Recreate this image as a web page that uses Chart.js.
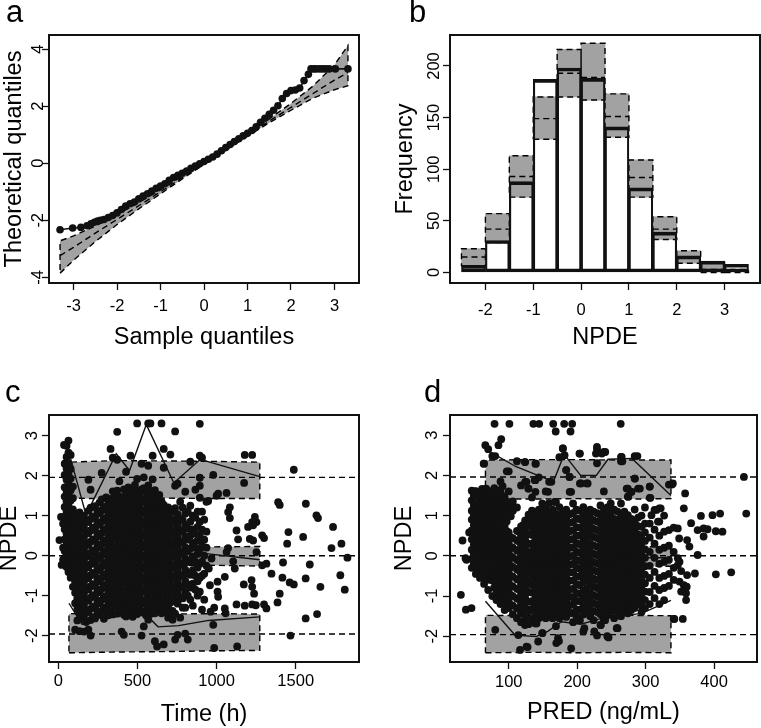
<!DOCTYPE html>
<html>
<head>
<meta charset="utf-8">
<script src="https://cdn.jsdelivr.net/npm/chart.js@4.4.1/dist/chart.umd.min.js"></script>
<style>
  body { margin: 0; background: #fff; width: 761px; height: 728px; position: relative; overflow: hidden; }
  canvas { position: absolute; }
</style>
</head>
<body>
<canvas id="pa" width="380" height="364" style="left:0;top:0"></canvas>
<canvas id="pb" width="381" height="364" style="left:380px;top:0"></canvas>
<canvas id="pc" width="380" height="364" style="left:0;top:364px"></canvas>
<canvas id="pd" width="381" height="364" style="left:380px;top:364px"></canvas>
<script>
// ---- a: QQ plot ----
const qqSample = [-3.31,-3.02,-2.83,-2.69,-2.6,-2.52,-2.45,-2.38,-2.3,
  -2.2,-2.1,-2.0,-1.9,-1.8,-1.7,-1.6,-1.5,-1.4,-1.3,-1.2,-1.1,-1.0,-0.9,-0.8,-0.7,-0.6,-0.5,-0.4,-0.3,-0.2,-0.1,
  0,0.1,0.2,0.3,0.4,0.5,0.6,0.7,0.8,0.9,1.0,1.1,1.2,1.3,1.4,1.5,1.6,1.7,1.8,1.9,2.0,2.1,2.2,2.3,2.4,
  2.46,2.52,2.58,2.66,2.73,2.8,2.88,3.02,3.31];
const qqTheo = [-2.33,-2.27,-2.25,-2.19,-2.12,-2.07,-2.03,-2.0,-1.97,
  -1.9,-1.83,-1.74,-1.62,-1.5,-1.42,-1.36,-1.25,-1.15,-1.07,-0.97,-0.88,-0.8,-0.72,-0.6,-0.5,-0.42,-0.35,-0.27,-0.18,-0.1,-0.02,
  0.06,0.14,0.22,0.32,0.44,0.55,0.66,0.76,0.86,0.96,1.05,1.15,1.28,1.44,1.58,1.72,1.86,2.02,2.27,2.45,2.55,2.57,2.64,2.9,3.12,
  3.31,3.31,3.31,3.31,3.31,3.31,3.31,3.31,3.31];
const qqBandX   = [-3.31,-3.0,-2.5,-2.0,-1.5,-1.0,-0.5,0,0.5,1.0,1.5,2.0,2.5,3.0,3.31];
const qqBandLo  = [-3.86,-3.4,-2.75,-2.15,-1.6,-1.07,-0.55,-0.04,0.46,0.95,1.42,1.86,2.28,2.58,2.72];
const qqBandMid = [-3.24,-2.95,-2.45,-1.97,-1.49,-1.0,-0.5,0,0.49,0.99,1.48,1.96,2.44,2.92,3.18];
const qqBandHi  = [-2.72,-2.55,-2.2,-1.8,-1.38,-0.93,-0.45,0.04,0.54,1.04,1.56,2.1,2.7,3.45,4.13];

// ---- b: histogram of NPDE ----
const binMid   = [-2.25,-1.75,-1.25,-0.75,-0.25,0.25,0.75,1.25,1.75,2.25,2.75,3.25];
const binWidth = 0.5;
const obsCount = [7,31,88,187,198,188,141,82,39,16,11,8];
const piLo  = [6,29,73,129,170,167,131,73,32,9,0,0];
const piMid = [15,42,93,149,193,189,151,92,42,14,3,2];
const piHi  = [23,57,113,170,216,222,173,109,54,21,10,3];

// ---- c: NPDE vs time (one row of NPDE values per sampling time) ----
const cStripeTime = [40,52,64,78,92,106,120,134,148,162,176,190,204,218,232,246,260,274,288,302,316,330,344,358,372,386,
  400,414,428,442,456,470,484,498,512,526,540,554,568,582,596,610,624,638,652,666,680,694,708,722,738,754,
  770,786,802,818,834,850,866,880,894,908,922,936];
const cStripeNpde = [
  [2.3,2.02,1.71,1.48,1.22,0.97,0.66,0.41,0.12,-0.18],
  [2.75,2.47,2.18,1.9,1.62,1.36,1.1,0.83,0.55,0.27,0.01,-0.28],
  [2.88,2.58,2.31,2.04,1.79,1.52,1.25,0.98,0.7,0.44,0.16,-0.12,-0.41],
  [2.52,2.17,1.93,1.64,1.38,1.07,0.79,0.52,0.24,-0.06,-0.33,-0.55],
  [1.73,1.44,1.16,0.87,0.6,0.33,0.05,-0.22,-0.5,-0.78],
  [1.02,0.74,0.47,0.18,-0.09,-0.37,-0.66,-0.93,-1.19,-1.85],
  [0.88,0.61,0.31,0.04,-0.24,-0.52,-0.79,-1.07,-1.34,-1.62],
  [1.08,0.79,0.49,0.22,-0.06,-0.33,-0.61,-0.88,-1.16,-1.45,-1.89],
  [0.93,0.66,0.37,0.09,-0.19,-0.47,-0.75,-1.03,-1.29,-1.58],
  [1.0,0.71,0.44,0.15,-0.12,-0.41,-0.68,-0.96,-1.24,-1.51,-1.9],
  [0.86,0.57,0.29,0.01,-0.27,-0.55,-0.83,-1.11,-1.39,-1.66],
  [1.9,1.12,0.84,0.56,0.27,-0.01,-0.29,-0.57,-0.85,-1.13,-1.41,-1.85],
  [1.65,1.2,0.92,0.63,0.35,0.07,-0.21,-0.49,-0.77,-1.05,-1.33,-1.61,-2.0],
  [0.98,0.7,0.41,0.13,-0.15,-0.43,-0.71,-0.99,-1.27,-1.55],
  [1.24,0.96,0.67,0.39,0.11,-0.17,-0.45,-0.73,-1.01,-1.29,-1.57],
  [1.12,0.83,0.55,0.27,-0.01,-0.29,-0.57,-0.85,-1.13,-1.41],
  [1.33,1.05,0.77,0.48,0.2,-0.08,-0.36,-0.64,-0.92,-1.2,-1.48],
  [2.07,1.41,1.13,0.85,0.57,0.29,0.01,-0.27,-0.55,-0.83,-1.11,-1.39],
  [1.22,0.94,0.66,0.38,0.1,-0.18,-0.46,-0.74,-1.02,-1.3,-1.58],
  [1.46,1.18,0.9,0.62,0.34,0.06,-0.22,-0.5,-0.78,-1.06,-1.34],
  [1.31,1.03,0.75,0.47,0.19,-0.09,-0.37,-0.65,-0.93,-1.21,-1.49],
  [2.67,1.42,1.14,0.86,0.58,0.3,0.02,-0.26,-0.54,-0.82,-1.1,-1.38],
  [2.45,1.61,1.33,1.05,0.77,0.49,0.21,-0.07,-0.35,-0.63,-0.91,-1.19,-1.47],
  [1.52,1.24,0.96,0.68,0.4,0.12,-0.16,-0.44,-0.72,-1.0,-1.28],
  [3.1,2.4,1.63,1.35,1.07,0.79,0.51,0.23,-0.05,-0.33,-0.61,-0.89,-1.17,-1.45],
  [1.86,1.48,1.2,0.92,0.64,0.36,0.08,-0.2,-0.48,-0.76,-1.04,-1.32],
  [1.41,1.13,0.85,0.57,0.29,0.01,-0.27,-0.55,-0.83,-1.11,-1.39,-1.9],
  [1.66,1.32,1.04,0.76,0.48,0.2,-0.08,-0.36,-0.64,-0.92,-1.2,-1.48,-1.98],
  [2.1,1.56,1.28,1.0,0.72,0.44,0.16,-0.12,-0.4,-0.68,-0.96,-1.24,-1.52],
  [1.71,1.43,1.15,0.87,0.59,0.31,0.03,-0.25,-0.53,-0.81,-1.09,-1.37],
  [2.5,1.62,1.34,1.06,0.78,0.5,0.22,-0.06,-0.34,-0.62,-0.9,-1.18,-1.46],
  [1.55,1.27,0.99,0.71,0.43,0.15,-0.13,-0.41,-0.69,-0.97,-1.25,-1.53],
  [1.77,1.47,1.19,0.91,0.63,0.35,0.07,-0.21,-0.49,-0.77,-1.05,-1.33],
  [3.31,1.92,1.62,1.34,1.06,0.78,0.5,0.22,-0.06,-0.34,-0.62,-0.9,-1.18,-1.46],
  [1.51,1.23,0.95,0.67,0.39,0.11,-0.17,-0.45,-0.73,-1.01,-1.29],
  [2.3,1.66,1.38,1.1,0.82,0.54,0.26,-0.02,-0.3,-0.58,-0.86,-1.14,-1.42,-2.0],
  [1.96,1.69,1.41,1.13,0.85,0.57,0.29,0.01,-0.27,-0.55,-0.83,-1.11,-1.39,-1.77],
  [1.59,1.31,1.03,0.75,0.47,0.19,-0.09,-0.37,-0.65,-0.93,-1.21,-1.49],
  [3.31,2.25,1.76,1.48,1.2,0.92,0.64,0.36,0.08,-0.2,-0.48,-0.76,-1.04,-1.32,-1.6],
  [3.31,1.62,1.34,1.06,0.78,0.5,0.22,-0.06,-0.34,-0.62,-0.9,-1.18,-1.46],
  [2.5,1.91,1.49,1.21,0.93,0.65,0.37,0.09,-0.19,-0.47,-0.75,-1.03,-1.31],
  [1.64,1.36,1.08,0.8,0.52,0.24,-0.04,-0.32,-0.6,-0.88,-1.16,-1.44,-2.14],
  [1.48,1.2,0.92,0.64,0.36,0.08,-0.2,-0.48,-0.76,-1.04,-1.32,-2.27],
  [1.52,1.24,0.96,0.68,0.4,0.12,-0.16,-0.44,-0.72,-1.0,-1.28],
  [3.31,1.36,1.08,0.8,0.52,0.24,-0.04,-0.32,-0.6,-0.88,-1.16,-1.44],
  [2.67,2.2,1.27,0.99,0.71,0.43,0.15,-0.13,-0.41,-0.69,-0.97,-1.25,-2.22],
  [1.12,0.84,0.56,0.28,0.0,-0.28,-0.56,-0.84,-1.12,-1.4],
  [1.21,0.93,0.65,0.37,0.09,-0.19,-0.47,-0.75,-1.03,-1.31,-1.55],
  [2.53,1.06,0.78,0.5,0.22,-0.06,-0.34,-0.62,-0.9,-1.18,-1.46],
  [1.14,0.86,0.58,0.3,0.02,-0.26,-0.54,-0.82,-1.1,-1.38,-1.6],
  [3.11,1.75,1.19,0.91,0.63,0.35,0.07,-0.21,-0.49,-0.77,-1.05,-1.45,-2.1],
  [1.8,1.04,0.76,0.48,0.2,-0.08,-0.36,-0.64,-0.92,-1.2,-1.98],
  [1.35,0.92,0.64,0.36,0.08,-0.2,-0.48,-0.76,-1.04,-1.55],
  [1.2,0.89,0.61,0.33,0.05,-0.23,-0.51,-0.79,-1.07,-1.3],
  [1.6,1.05,0.77,0.49,0.21,-0.07,-0.35,-0.63,-0.91,-1.3,-1.95],
  [1.1,0.68,0.4,0.12,-0.16,-0.44,-0.72,-1.0,-2.1],
  [2.35,1.25,0.85,0.5,0.18,-0.14,-0.48,-0.8,-1.1],
  [1.0,0.66,0.32,-0.02,-0.36,-0.7,-1.25],
  [1.65,0.95,0.55,0.2,-0.15,-0.5,-0.85],
  [1.1,0.72,0.38,0.04,-0.3,-0.64,-1.0],
  [3.3,2.5,1.95,1.75,1.45,0.85,0.5,0.15,-0.2,-0.55,-0.9],
  [2.45,1.1,0.65,0.25,-0.15,-0.5,-1.35],
  [0.9,0.4,0.0,-0.45,-1.1],
  [1.35,0.6,0.2,-0.25]
];
const cExtra = [[7,0.39],[17,0.97],[21,-0.23],[30,0.8],[30,0.2],[30,-0.1],[36,2.77],
  [947,1.37],[951,-0.32],[958,-0.74],[962,-1.4],[968,-0.07],[979,2.02],[979,-1.73],[985,-1.3],[985,-2.31],
  [1000,1.5],[1006,-0.65],[1006,-0.9],[1010,-1.03],[1010,1.55],[1052,-0.53],[1052,-1.32],[1057,-1.44],
  [1063,1.57],[1063,0.09],[1073,1.09],[1073,0.19],[1084,1.21],[1084,0.94],[1105,-0.14],[1115,-0.32],
  [1126,0.63],[1126,-1.22],[1130,-2.27],[1136,0.41],[1172,-0.72],[1174,1.82],[1178,2.52],[1178,-1.25],
  [1199,0.72],[1210,0.42],[1221,-0.61],[1225,2.52],[1225,0.84],[1225,-0.78],[1225,-1.22],[1231,0.38],
  [1231,0.76],[1237,-0.95],[1242,0.97],[1248,-1.24],[1252,0.09],[1252,0.84],[1288,0.51],[1288,-0.24],
  [1300,0.44],[1300,-1.22],[1315,-0.2],[1315,-1.32],[1347,-0.45],[1385,-1.17],[1389,1.34],[1399,1.27],
  [1399,-0.95],[1416,-0.55],[1420,-0.17],[1446,0.3],[1454,0.59],[1462,-0.67],[1467,-2.0],[1488,-0.72],
  [1488,2.15],[1547,0.47],[1563,-0.57],[1563,-1.57],[1564,1.3],[1589,-0.22],[1631,1.01],[1635,-1.46],
  [1641,0.94],[1656,-0.78],[1726,0.19],[1736,0.72],[1782,-0.49],[1789,0.3],[1810,-0.85],[1827,-0.05]];
const cBandX = [67,370,670,970,1273];
const cUpHi  = [2.34,2.38,2.37,2.36,2.34], cUpLo  = [1.44,1.42,1.44,1.43,1.43];
const cMidHi = [0.24,0.22,0.23,0.22,0.23], cMidLo = [-0.27,-0.25,-0.26,-0.24,-0.26];
const cLowHi = [-1.45,-1.47,-1.46,-1.45,-1.46], cLowLo = [-2.43,-2.41,-2.4,-2.38,-2.37];
const cP95T = [67,175,366,450,556,730,894,940,1273];
const cP95  = [2.58,1.02,2.55,2.13,3.28,1.82,2.4,2.36,1.98];
const cP50T = [67,175,366,556,730,894,1273];
const cP50  = [0.1,-0.05,0.0,-0.1,0.0,0.07,-0.1];
const cP05T = [67,150,250,366,420,560,630,760,950,1273];
const cP05  = [-1.19,-1.72,-1.55,-1.12,-1.3,-1.5,-1.78,-1.75,-1.62,-1.53];

// ---- d: NPDE vs PRED (NPDE values grouped by PRED) ----
const dPredCols = [46,49,52,55,58,61,64,67,70,73,76,79,82,85,88,91,94,97,100,103,106,112,115,118,121,124,129,
  134,139,144,149,154,159,164,169,174,179,184,189,194,199,204,209,214,219,224,229,234,239,244,249,254,259,264,269,274,279,284,289,294,299,
  306,313,320,327,334,341];
const dNpdeCols = [
  [1.62,1.38,1.12,0.9,0.63,0.41,0.15,-0.08,-0.3],
  [1.5,1.26,1.0,0.77,0.52,0.28,0.03,-0.2],
  [1.6,1.29,1.05,0.8,0.57,0.33,0.08,-0.16,-0.45],
  [1.47,1.18,0.93,0.69,0.45,0.21,-0.04,-0.3],
  [1.59,1.45,1.21,0.98,0.74,0.5,0.26,0.02,-0.24,-0.55],
  [1.66,1.33,1.09,0.86,0.62,0.38,0.14,-0.1,-0.4],
  [2.29,1.55,1.33,1.1,0.86,0.61,0.37,0.14,-0.11,-0.35,-0.7],
  [1.67,1.43,1.2,0.96,0.72,0.48,0.24,0.0,-0.25,-0.55],
  [2.65,1.47,1.24,1.0,0.77,0.53,0.29,0.05,-0.19,-0.43,-0.85],
  [1.6,1.35,1.12,0.88,0.64,0.4,0.17,-0.07,-0.31,-0.6],
  [2.48,1.56,1.32,1.08,0.85,0.6,0.36,0.12,-0.13,-0.37,-0.61,-1.0],
  [1.68,1.44,1.2,0.96,0.72,0.47,0.23,-0.01,-0.25,-0.5,-0.78],
  [1.5,1.27,1.03,0.79,0.55,0.31,0.07,-0.17,-0.41,-0.65,-0.89,-1.1],
  [1.62,1.39,1.15,0.91,0.67,0.43,0.19,-0.05,-0.29,-0.53,-0.77,-1.0],
  [1.85,1.6,1.37,1.13,0.88,0.64,0.4,0.16,-0.08,-0.32,-0.56,-0.8,-1.04,-1.2],
  [1.73,1.49,1.25,1.01,0.76,0.52,0.28,0.04,-0.2,-0.44,-0.68,-0.92],
  [1.45,1.21,0.97,0.73,0.49,0.25,0.01,-0.23,-0.47,-0.71,-0.95,-1.19,-1.35],
  [1.33,1.09,0.85,0.61,0.37,0.13,-0.11,-0.35,-0.59,-0.83,-1.07],
  [2.1,1.6,1.31,1.07,0.58,0.34,0.1,-0.14,-0.38,-0.62,-0.86,-1.1,-1.3],
  [1.22,0.98,0.46,0.22,-0.02,-0.26,-0.5,-0.74,-0.98,-1.22],
  [1.35,1.12,0.44,0.2,-0.04,-0.28,-0.52,-0.76,-1.0,-1.24,-1.45],
  [2.35,1.2,0.62,0.38,0.14,-0.1,-0.34,-0.58,-0.82,-1.06,-1.3,-1.55],
  [0.6,0.36,0.12,-0.12,-0.36,-0.6,-0.84,-1.08,-1.32],
  [1.75,0.73,0.49,0.25,0.01,-0.23,-0.47,-0.71,-0.95,-1.19,-1.43,-1.65],
  [0.76,0.52,0.28,0.04,-0.2,-0.44,-0.68,-0.92,-1.16,-1.4],
  [2.33,1.84,0.88,0.64,0.4,0.16,-0.08,-0.32,-0.56,-0.8,-1.04,-1.28,-1.55],
  [1.67,1.02,0.78,0.54,0.3,0.06,-0.18,-0.42,-0.66,-0.9,-1.14,-1.38,-1.7],
  [1.45,1.12,0.93,0.71,0.52,0.3,0.11,-0.1,-0.31,-0.5,-0.72,-0.91,-1.13,-1.32,-1.55],
  [2.29,1.88,1.59,1.03,0.82,0.6,0.41,0.2,0.0,-0.21,-0.42,-0.6,-0.81,-1.02,-1.22,-1.42,-1.68],
  [1.95,1.15,0.94,0.73,0.51,0.32,0.1,-0.09,-0.3,-0.52,-0.71,-0.93,-1.11,-1.33,-1.55],
  [1.3,1.02,0.81,0.62,0.4,0.21,-0.02,-0.2,-0.41,-0.61,-0.83,-1.01,-1.22,-1.4,-1.92],
  [1.6,1.16,0.95,0.74,0.53,0.31,0.12,-0.11,-0.3,-0.51,-0.72,-0.92,-1.13,-1.31,-1.55],
  [1.84,1.31,1.04,0.83,0.61,0.42,0.2,0.01,-0.2,-0.4,-0.62,-0.81,-1.02,-1.21,-1.43],
  [1.15,0.93,0.72,0.52,0.3,0.1,-0.11,-0.31,-0.53,-0.72,-0.93,-1.12,-1.34,-1.55],
  [1.34,1.04,0.82,0.63,0.41,0.2,0.0,-0.22,-0.4,-0.62,-0.81,-1.03,-1.22,-1.43,-1.75],
  [2.45,1.21,0.95,0.73,0.54,0.33,0.11,-0.08,-0.3,-0.5,-0.71,-0.92,-1.1,-1.32,-1.55],
  [2.67,1.07,0.86,0.64,0.43,0.23,0.02,-0.19,-0.4,-0.6,-0.8,-1.01,-1.22,-1.4],
  [2.13,1.15,0.94,0.72,0.51,0.3,0.1,-0.12,-0.31,-0.52,-0.71,-0.93,-1.12,-1.33,-1.52],
  [1.96,1.59,1.03,0.82,0.61,0.4,0.2,-0.01,-0.22,-0.41,-0.62,-0.83,-1.02,-1.23,-1.42],
  [1.3,1.06,0.84,0.63,0.42,0.21,0.0,-0.2,-0.41,-0.61,-0.82,-1.03,-1.21,-1.42,-1.65],
  [1.15,0.93,0.71,0.5,0.31,0.1,-0.11,-0.3,-0.52,-0.71,-0.92,-1.12,-1.33,-1.5],
  [2.54,1.8,1.12,0.91,0.7,0.5,0.29,0.08,-0.12,-0.33,-0.52,-0.73,-0.94,-1.13,-1.34,-1.6],
  [1.21,0.99,0.78,0.57,0.36,0.16,-0.05,-0.26,-0.46,-0.66,-0.87,-1.07,-1.28,-1.46,-1.88],
  [1.8,1.06,0.85,0.64,0.43,0.22,0.01,-0.2,-0.41,-0.6,-0.82,-1.01,-1.22,-1.4],
  [1.15,0.94,0.73,0.52,0.31,0.1,-0.1,-0.31,-0.51,-0.72,-0.93,-1.12,-1.33,-1.5],
  [1.1,0.88,0.67,0.47,0.26,0.05,-0.16,-0.36,-0.57,-0.77,-0.98,-1.18,-1.38,-1.6],
  [2.65,2.3,1.06,0.85,0.64,0.44,0.23,0.02,-0.19,-0.39,-0.6,-0.8,-1.01,-1.21,-1.4,-1.98],
  [1.25,1.01,0.8,0.6,0.39,0.18,-0.03,-0.23,-0.44,-0.64,-0.85,-1.05,-1.26,-1.45,-1.72],
  [2.58,1.6,1.12,0.91,0.7,0.5,0.29,0.08,-0.12,-0.33,-0.53,-0.74,-0.94,-1.15,-1.35,-1.6],
  [1.2,0.97,0.76,0.56,0.35,0.14,-0.07,-0.27,-0.48,-0.68,-0.89,-1.09,-1.3,-1.48,-2.0],
  [1.3,1.05,0.84,0.63,0.43,0.22,0.01,-0.19,-0.4,-0.6,-0.81,-1.01,-1.22,-1.4],
  [1.15,0.92,0.71,0.51,0.3,0.09,-0.12,-0.32,-0.53,-0.73,-0.94,-1.14,-1.35,-1.55],
  [1.1,0.86,0.65,0.45,0.24,0.03,-0.18,-0.38,-0.59,-0.79,-1.0,-1.2,-1.4,-1.8],
  [2.46,2.35,1.3,0.98,0.77,0.57,0.36,0.15,-0.06,-0.26,-0.47,-0.67,-0.88,-1.08,-1.29,-1.5],
  [1.1,0.89,0.68,0.48,0.27,0.06,-0.15,-0.35,-0.56,-0.76,-0.97,-1.17,-1.36],
  [1.67,1.47,1.01,0.8,0.59,0.39,0.18,-0.03,-0.24,-0.44,-0.65,-0.85,-1.06,-1.26,-1.43],
  [1.59,0.92,0.71,0.5,0.3,0.09,-0.12,-0.32,-0.53,-0.73,-0.94,-1.14,-1.35],
  [2.48,1.92,1.15,0.84,0.63,0.43,0.22,0.01,-0.2,-0.4,-0.61,-0.81,-1.02,-1.22,-1.3],
  [1.67,0.95,0.74,0.53,0.33,0.12,-0.09,-0.29,-0.5,-0.7,-0.91,-1.11],
  [1.0,0.72,0.43,0.22,0.01,-0.2,-0.41,-0.62,-0.83,-1.03,-1.24,-1.4],
  [1.2,0.8,0.58,0.37,0.16,-0.05,-0.26,-0.47,-0.68,-0.89,-1.1,-1.3],
  [1.72,1.44,0.8,0.45,0.1,-0.25,-0.55,-0.9,-1.2],
  [1.14,0.65,0.3,-0.05,-0.4,-0.75,-1.05],
  [1.18,0.85,0.5,0.15,-0.2,-0.55,-0.85,-1.2],
  [1.0,0.6,0.2,-0.15,-0.5,-0.8,-1.1],
  [1.77,0.64,0.25,-0.1,-0.45,-0.75],
  [0.7,0.1,-0.3,-0.6,-1.57]
];
const dExtra = [[79.3,3.28],[101,3.28],[136,3.28],[144.5,3.28],[165,3.28],[181,3.28],[192.7,3.28],[263.6,3.28],
  [168.6,3.09],[190.3,3.09],[63.4,2.29],[65.8,2.75],[85,2.75],[89,2.9],[80.3,2.48],
  [97.2,2.1],[123.7,2.33],[126,1.84],[128.5,1.67],[138,1.88],[139.6,2.29],[157.5,1.59],[162.3,1.84],[167,1.34],
  [179.2,2.67],[181.6,2.5],[184,2.13],[188.8,1.96],[191.2,1.59],[203.3,2.54],[205.7,1.8],[215.3,1.8],
  [227.4,2.54],[228.9,2.71],[236,2.54],[241,2.58],[265,2.46],[266,2.35],[288,2.48],[284.4,1.92],[291.6,1.67],
  [279.5,1.59],[272.3,1.67],[274.7,1.47],[307,1.44],[306,1.72],[338.4,1.77],[315.7,1.14],[322,1.18],[308.5,1.01],[318,0.85],
  [443.6,1.96],[447,1.05],[425,-0.41],[402.6,-0.46],[408.8,1.05],[397.7,1.01],[380.8,0.99],[357.7,1.55],[355.8,1.18],
  [366.4,0.81],[376,0.64],[384.7,0.68],[402.5,0.61],[412.2,0.6],[347,0.68],[349,0.43],[360.6,0.39],[364,0.23],
  [376,0.02],[347,-0.06],[347,-0.23],[351.9,-0.38],[360.6,-0.48],[372,-0.44],[349.5,-0.64],[355.8,-0.73],[360,-0.77],
  [359,-0.93],[351.9,-0.89],[359.1,-1.1],[342,-1.57],[354.3,-1.57],[339.8,1.8],[390.5,0.66],[384.7,0.48],[349.5,-0.15],
  [30.1,-0.97],[37.4,-1.34],[45.6,-1.3],[32.5,0.38],[38.3,-0.1],[42.2,0.58],[47,0.55],[36.9,-0.06],[51.3,1.61],[58.6,1.59],
  [80.3,-1.84],[114,-1.97],[116.5,-2.34],[126,-2.26],[143,-2.13],[169.5,-2.17],[191.2,-2.3],[172,-2.05],[140.6,-1.68],
  [123.7,-1.72],[225,-1.88],[210.5,-1.8],[234.6,-1.72],[257.8,-1.8],[245.8,-2.03],[240.9,-1.6],[149.3,-1.92],
  [127.6,-2.27],[173.4,-2.12]];
const dBandX = [66,135,200,270,337];
const dUpHi  = [2.38,2.39,2.39,2.38,2.38], dUpLo  = [1.42,1.41,1.42,1.41,1.42];
const dMidHi = [0.23,0.22,0.22,0.23,0.22], dMidLo = [-0.26,-0.25,-0.26,-0.25,-0.26];
const dLowHi = [-1.48,-1.49,-1.49,-1.48,-1.49], dLowLo = [-2.41,-2.4,-2.41,-2.4,-2.41];
const dP95T = [66,110,157,166,181,205,228,245,280,337];
const dP95  = [2.65,2.22,1.9,1.88,2.52,2.0,2.0,2.4,2.42,1.5];
const dP50T = [66,110,157,205,245,280,337];
const dP50  = [0.05,-0.1,-0.15,-0.2,-0.15,-0.05,-0.05];
const dP05T = [66,109,140,157,177,205,237,294,337];
const dP05  = [-1.13,-1.97,-2.01,-1.88,-1.64,-1.7,-1.55,-1.43,-1.11];

const refLines = [1.96, 0, -1.96];

// ---- drawing helpers ----
const FONT = "'Liberation Sans', Arial, Helvetica, sans-serif";
const INK = '#111';
const GRAY = '#a2a2a2';
const DASH = [6, 4];

const xy = (xs, ys) => xs.map((x, i) => ({x: x, y: ys[i]}));

// box round the plot, R-style rotated y tick labels, panel letter
const frame = {
  id: 'frame',
  afterDraw(chart, args, o) {
    const ctx = chart.ctx, a = chart.chartArea, ys = chart.scales.y;
    ctx.save();
    ctx.fillStyle = '#000';
    ctx.font = '16.5px ' + FONT;
    ctx.textAlign = 'center';
    ctx.textBaseline = 'middle';
    ys.ticks.forEach(t => {
      ctx.save();
      ctx.translate(o.tickX, ys.getPixelForValue(t.value));
      ctx.rotate(-Math.PI / 2);
      ctx.fillText(String(t.value), 0, 0);
      ctx.restore();
    });
    ctx.strokeStyle = INK;
    ctx.lineWidth = 2;
    ctx.strokeRect(a.left, a.top, a.right - a.left, a.bottom - a.top);
    ctx.font = '31px ' + FONT;
    ctx.textAlign = 'left';
    ctx.textBaseline = 'alphabetic';
    ctx.fillText(o.letter, o.lx, o.ly);
    ctx.restore();
  }
};

function axes(o) {
  const grid = {drawOnChartArea: false, drawTicks: true, tickLength: 7, tickColor: INK, tickWidth: 1.3, offset: false};
  const titleFont = {family: FONT, size: 23.5};
  return {
    x: {
      type: 'linear', min: o.xmin, max: o.xmax, offset: false,
      afterBuildTicks: s => { s.ticks = o.xticks.map(v => ({value: v})); },
      afterFit: s => { s.height = o.xh; },
      grid: grid, border: {display: false},
      ticks: {color: '#000', font: {family: FONT, size: 16.5}, padding: o.xpad, maxRotation: 0, autoSkip: false, callback: v => String(v)},
      title: {display: true, text: o.xtitle, color: '#000', font: titleFont, padding: {top: 0, bottom: o.xtpad}}
    },
    y: {
      type: 'linear', min: o.ymin, max: o.ymax,
      afterBuildTicks: s => { s.ticks = o.yticks.map(v => ({value: v})); },
      afterFit: s => { s.width = o.yw; },
      grid: grid, border: {display: false},
      ticks: {display: false},
      title: {display: true, text: o.ytitle, color: '#000', font: titleFont, padding: {top: o.ytpad, bottom: 0}}
    }
  };
}

function draw(id, type, o, datasets) {
  new Chart(document.getElementById(id), {
    type: type,
    data: {datasets: datasets},
    options: {
      responsive: false, animation: false, devicePixelRatio: 1,
      layout: {padding: o.pad},
      plugins: {legend: {display: false}, tooltip: {enabled: false},
        frame: {letter: o.letter, lx: o.lx, ly: o.ly, tickX: o.tickX}},
      scales: axes(o)
    },
    plugins: [frame]
  });
}

const dashLine = (data) => ({type: 'line', data: data, borderColor: '#000', borderWidth: 1.4, borderDash: DASH,
  pointRadius: 0, fill: false, spanGaps: false});
const solidLine = (data) => ({type: 'line', data: data, borderColor: INK, borderWidth: 1.4, pointRadius: 0, fill: false});

// gray prediction band: dashed outline + fill between hi and lo
function band(xs, lo, hi) {
  const outline = xy(xs, lo).concat(xy(xs, hi).reverse(), [{x: xs[0], y: lo[0]}]);
  return [
    dashLine(outline),
    {type: 'line', data: xy(xs, hi), borderWidth: 0, borderColor: 'rgba(0,0,0,0)', pointRadius: 0, fill: '+1', backgroundColor: GRAY},
    {type: 'line', data: xy(xs, lo), borderWidth: 0, borderColor: 'rgba(0,0,0,0)', pointRadius: 0, fill: false}
  ];
}

function refData(xmin, xmax) {
  const out = [];
  refLines.forEach(v => { out.push({x: xmin, y: v}, {x: xmax, y: v}, {x: xmax, y: null}); });
  return out;
}

function scatterPts(cols, colVals, extra) {
  const pts = [];
  cols.forEach((x, i) => colVals[i].forEach(v => pts.push({x: x, y: v})));
  extra.forEach(p => pts.push({x: p[0], y: p[1]}));
  return {type: 'scatter', data: pts, pointRadius: 3.9, pointBackgroundColor: INK, pointBorderWidth: 0, showLine: false, clip: 0};
}

// ---- panel a ----
draw('pa', 'line', {
  pad: {left: 0, top: 35, right: 21, bottom: 0}, yw: 49, xh: 81,
  xmin: -3.564, xmax: 3.564, ymin: -4.2, ymax: 4.5,
  xticks: [-3,-2,-1,0,1,2,3], yticks: [-4,-2,0,2,4],
  xpad: 7, xtpad: 12, ytpad: 0, tickX: 38,
  xtitle: 'Sample quantiles', ytitle: 'Theoretical quantiles',
  letter: 'a', lx: 6, ly: 21.5
}, [
  {type: 'line', data: xy(qqSample, qqTheo), borderColor: INK, borderWidth: 1.6,
    pointRadius: 3.8, pointBackgroundColor: INK, pointBorderWidth: 0, fill: false},
  dashLine(xy(qqBandX, qqBandMid))
].concat(band(qqBandX, qqBandLo, qqBandHi)));

// ---- panel b ----
const piBoxes = [], piMids = [];
binMid.forEach((m, i) => {
  const x0 = m - binWidth / 2, x1 = m + binWidth / 2;
  piBoxes.push({x: x0, y: piLo[i]}, {x: x1, y: piLo[i]}, {x: x1, y: piHi[i]}, {x: x0, y: piHi[i]}, {x: x0, y: piLo[i]}, {x: x0, y: null});
  piMids.push({x: x0, y: piMid[i]}, {x: x1, y: piMid[i]}, {x: x1, y: null});
});
draw('pb', 'bar', {
  pad: {left: 0, top: 35, right: 1, bottom: 0}, yw: 70, xh: 81,
  xmin: -2.74, xmax: 3.74, ymin: -10.2, ymax: 230,
  xticks: [-2,-1,0,1,2,3], yticks: [0,50,100,150,200],
  xpad: 11, xtpad: 12, ytpad: 11, tickX: 54,
  xtitle: 'NPDE', ytitle: 'Frequency',
  letter: 'b', lx: 29, ly: 21.5
}, [
  {type: 'bar', data: xy(binMid, obsCount), backgroundColor: 'rgba(0,0,0,0)', borderColor: INK,
    borderWidth: {top: 3, bottom: 3, left: 1.5, right: 1.5}, borderSkipped: false,
    barPercentage: 1, categoryPercentage: 1, grouped: false},
  dashLine(piBoxes),
  dashLine(piMids),
  {type: 'bar', data: binMid.map((m, i) => ({x: m, y: [piLo[i], piHi[i]]})), backgroundColor: GRAY,
    borderWidth: 0, barPercentage: 1, categoryPercentage: 1, grouped: false}
]);

// ---- panel c ----
draw('pc', 'scatter', {
  pad: {left: 0, top: 51, right: 21, bottom: 0}, yw: 49, xh: 66,
  xmin: -59, xmax: 1900, ymin: -2.66, ymax: 3.52,
  xticks: [0,500,1000,1500], yticks: [-2,-1,0,1,2,3],
  xpad: 3, xtpad: -1, ytpad: -5, tickX: 32,
  xtitle: 'Time (h)', ytitle: 'NPDE',
  letter: 'c', lx: 5, ly: 38
}, [
  solidLine(xy(cP95T, cP95)), solidLine(xy(cP50T, cP50)), solidLine(xy(cP05T, cP05)),
  scatterPts(cStripeTime, cStripeNpde, cExtra),
  dashLine(refData(-59, 1900))
].concat(band(cBandX, cUpLo, cUpHi), band(cBandX, cMidLo, cMidHi), band(cBandX, cLowLo, cLowHi)));

// ---- panel d ----
draw('pd', 'scatter', {
  pad: {left: 0, top: 51, right: 1, bottom: 0}, yw: 70, xh: 66,
  xmin: 14.2, xmax: 462.7, ymin: -2.64, ymax: 3.5,
  xticks: [100,200,300,400], yticks: [-2,-1,0,1,2,3],
  xpad: 4, xtpad: 1, ytpad: 10, tickX: 52.5,
  xtitle: 'PRED (ng/mL)', ytitle: 'NPDE',
  letter: 'd', lx: 44, ly: 38
}, [
  solidLine(xy(dP95T, dP95)), solidLine(xy(dP50T, dP50)), solidLine(xy(dP05T, dP05)),
  scatterPts(dPredCols, dNpdeCols, dExtra),
  dashLine(refData(14.2, 462.7))
].concat(band(dBandX, dUpLo, dUpHi), band(dBandX, dMidLo, dMidHi), band(dBandX, dLowLo, dLowHi)));
</script>
</body>
</html>
